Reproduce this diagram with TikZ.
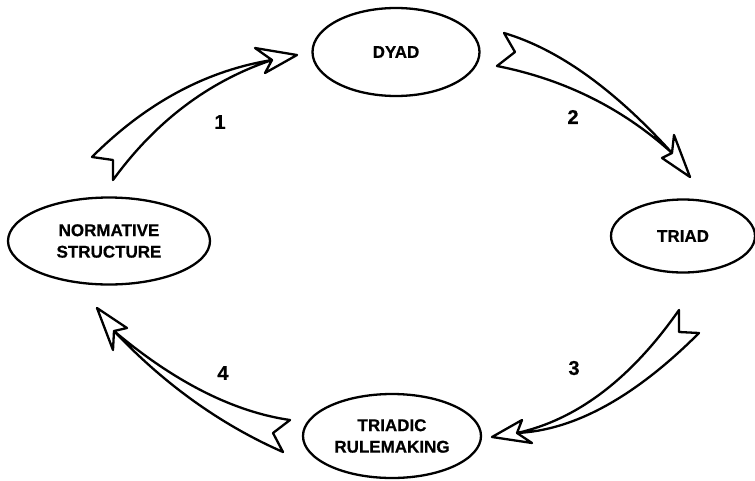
\documentclass[tikz,border=0pt]{standalone}
\usepackage{fontspec}
\setmainfont{Liberation Sans}
\newfontfamily\heavyfont{Liberation Sans Bold}[FakeBold=0.6]
\usetikzlibrary{shapes.geometric}
\begin{document}
\begin{tikzpicture}[x=1pt,y=-1pt,
  oval/.style={draw, ellipse, line width=2.3pt, inner sep=0pt, align=center,
    font=\heavyfont\fontsize{17}{21.5}\selectfont},
  num/.style={font=\heavyfont\fontsize{20}{24}\selectfont},
  swoosh/.style={draw, fill=white, line width=2.3pt, line join=round}]
\useasboundingbox (0,0) rectangle (755,480);
% nodes
\node[oval, minimum width=167pt, minimum height=88pt] (dyad) at (396,52) {DYAD};
\node[oval, minimum width=144pt, minimum height=73pt] (triad) at (683,236) {TRIAD};
\node[oval, minimum width=202pt, minimum height=87pt] (norm) at (109,241) {NORMATIVE\\STRUCTURE};
\node[oval, minimum width=178pt, minimum height=84pt] (rule) at (392,436) {TRIADIC\\RULEMAKING};
% numbers
\node[num] (n1) at (220,122) {1};
\node[num] (n2) at (573,117) {2};
\node[num] (n3) at (574,368) {3};
\node[num] (n4) at (223,373) {4};
% arrow 1: normative -> dyad
\draw[swoosh] (92,157) .. controls (146,103) and (206,70.7) .. (272,60)
  -- (255,48) -- (297,55) -- (265,73) -- (272,60)
  .. controls (208.7,81.3) and (155.7,121.3) .. (113,180) -- (113,160) -- cycle;
% arrow 2: dyad -> triad
\draw[swoosh] (504,33) .. controls (558,49) and (614,89) .. (672,153)
  -- (674,135) -- (690,177) -- (662,158) -- (672,153)
  .. controls (622.7,108.3) and (564.3,79.3) .. (497,66) -- (515,52) -- cycle;
% arrow 3: triad -> triadic rulemaking
\draw[swoosh] (679,310) .. controls (631,378.7) and (577,419.7) .. (517,433)
  -- (522,420) -- (492,437) -- (532,443) -- (517,433)
  .. controls (574.3,430.3) and (635,397) .. (699,333) -- (679,332) -- cycle;
% arrow 4: triadic rulemaking -> normative
\draw[swoosh] (290,420) .. controls (234.7,412) and (175.7,383) .. (114,331)
  -- (127,328) -- (97,308) -- (113,350) -- (114,331)
  .. controls (165.7,385.7) and (222.3,425.3) .. (283,452) -- (273,433) -- cycle;
\end{tikzpicture}
\end{document}
